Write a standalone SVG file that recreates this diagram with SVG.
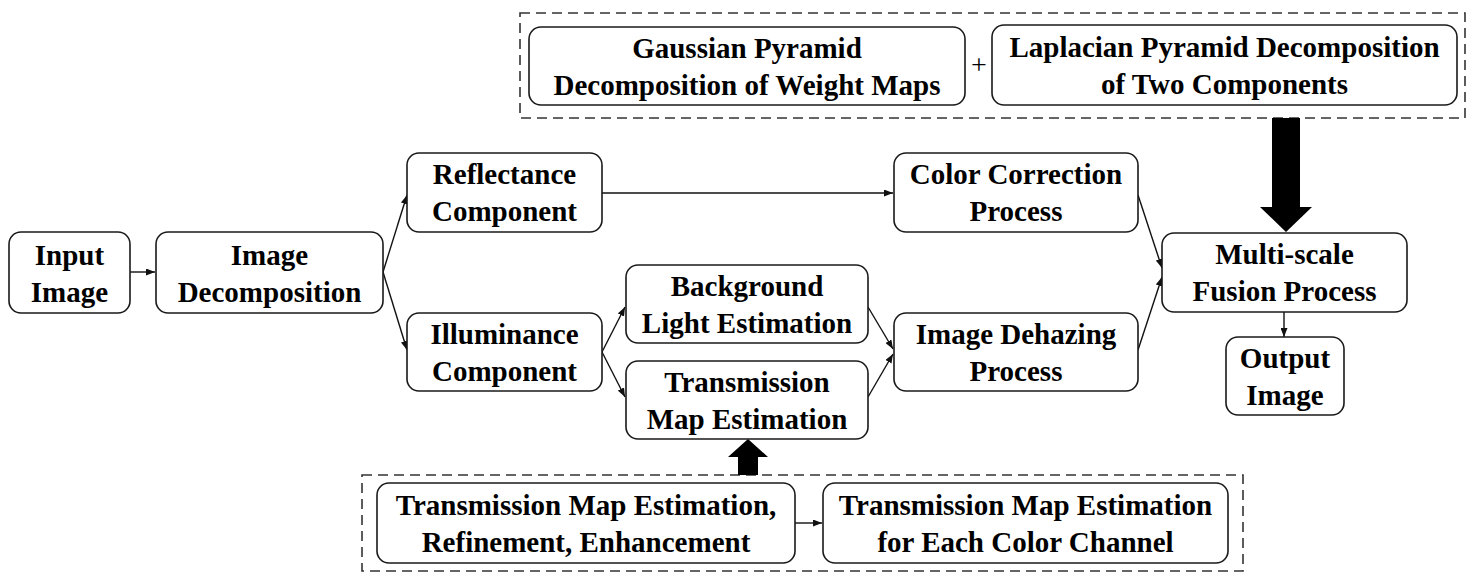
<svg xmlns="http://www.w3.org/2000/svg" width="1474" height="584" viewBox="0 0 1474 584">
<style>
.box{fill:#fff;stroke:#1a1a1a;stroke-width:1.6}
.dash{fill:none;stroke:#333;stroke-width:1.6;stroke-dasharray:10 6}
.lbl{font-weight:bold;font-size:29px;fill:#000;text-anchor:middle}
.plus{font-size:28px;fill:#000;text-anchor:middle}
.conn{fill:none;stroke:#111;stroke-width:1.4;marker-end:url(#ah)}
.thick{fill:#000;stroke:none}
</style>
<defs>
<marker id="ah" markerUnits="userSpaceOnUse" markerWidth="9" markerHeight="7" refX="9" refY="3.5" orient="auto">
<path d="M0,0 L9,3.5 L0,7 z" fill="#111"/>
</marker>
</defs>
<rect class="dash" x="520" y="13" width="945" height="105"/>
<rect class="dash" x="362" y="475" width="881" height="96"/>
<g id="connectors">
<line class="conn" x1="130" y1="272" x2="155" y2="272"/>
<line class="conn" x1="383" y1="272" x2="407" y2="195"/>
<line class="conn" x1="383" y1="272" x2="407" y2="350"/>
<line class="conn" x1="602" y1="193" x2="893" y2="193"/>
<line class="conn" x1="602" y1="352" x2="625" y2="307"/>
<line class="conn" x1="602" y1="352" x2="625" y2="397"/>
<line class="conn" x1="868" y1="307" x2="893" y2="349"/>
<line class="conn" x1="868" y1="397" x2="893" y2="354"/>
<line class="conn" x1="1138" y1="195" x2="1162" y2="268"/>
<line class="conn" x1="1138" y1="350" x2="1162" y2="277"/>
<line class="conn" x1="1284" y1="312" x2="1284" y2="337"/>
<line class="conn" x1="795" y1="523" x2="822" y2="523"/>
<polygon class="thick" points="1272,118 1300,118 1300,207 1312,207 1286,232 1260,207 1272,207"/>
<polygon class="thick" points="738,475 758,475 758,457 768,457 748,439 728,457 738,457"/>
</g>
<g font-family="Liberation Serif, Tinos, Times New Roman, DejaVu Serif, serif">
<g id="input"><rect class="box" x="9" y="232" width="121" height="81" rx="12"/><text class="lbl" x="69.5" y="264.5">Input</text><text class="lbl" x="69.5" y="301.5">Image</text></g>
<g id="decomposition"><rect class="box" x="156" y="232" width="227" height="81" rx="12"/><text class="lbl" x="269.5" y="264.5">Image</text><text class="lbl" x="269.5" y="301.5">Decomposition</text></g>
<g id="reflectance"><rect class="box" x="407" y="153" width="195" height="79" rx="12"/><text class="lbl" x="504.5" y="184">Reflectance</text><text class="lbl" x="504.5" y="221">Component</text></g>
<g id="illuminance"><rect class="box" x="407" y="313" width="195" height="78" rx="12"/><text class="lbl" x="504.5" y="343.5">Illuminance</text><text class="lbl" x="504.5" y="380.5">Component</text></g>
<g id="background"><rect class="box" x="626" y="265" width="242" height="78" rx="12"/><text class="lbl" x="747" y="295.5">Background</text><text class="lbl" x="747" y="332.5">Light Estimation</text></g>
<g id="transmission"><rect class="box" x="626" y="361" width="242" height="78" rx="12"/><text class="lbl" x="747" y="391.5">Transmission</text><text class="lbl" x="747" y="428.5">Map Estimation</text></g>
<g id="colorcorrection"><rect class="box" x="894" y="153" width="244" height="79" rx="12"/><text class="lbl" x="1016" y="184">Color Correction</text><text class="lbl" x="1016" y="221">Process</text></g>
<g id="dehazing"><rect class="box" x="894" y="313" width="244" height="78" rx="12"/><text class="lbl" x="1016" y="343.5">Image Dehazing</text><text class="lbl" x="1016" y="380.5">Process</text></g>
<g id="fusion"><rect class="box" x="1162" y="233" width="245" height="79" rx="12"/><text class="lbl" x="1284.5" y="264">Multi-scale</text><text class="lbl" x="1284.5" y="301">Fusion Process</text></g>
<g id="output"><rect class="box" x="1226" y="337" width="118" height="78" rx="12"/><text class="lbl" x="1285" y="367.5">Output</text><text class="lbl" x="1285" y="404.5">Image</text></g>
<g id="gaussian"><rect class="box" x="529" y="27" width="436" height="78" rx="12"/><text class="lbl" x="747" y="57.5">Gaussian Pyramid</text><text class="lbl" x="747" y="94.5">Decomposition of Weight Maps</text></g>
<g id="plus"><text class="plus" x="979" y="74">+</text></g>
<g id="laplacian"><rect class="box" x="992" y="25" width="465" height="80" rx="12"/><text class="lbl" x="1224.5" y="56.5">Laplacian Pyramid Decomposition</text><text class="lbl" x="1224.5" y="93.5">of Two Components</text></g>
<g id="tme-refine"><rect class="box" x="377" y="483" width="418" height="80" rx="12"/><text class="lbl" x="586" y="514.5">Transmission Map Estimation,</text><text class="lbl" x="586" y="551.5">Refinement, Enhancement</text></g>
<g id="tme-channel"><rect class="box" x="823" y="483" width="405" height="80" rx="12"/><text class="lbl" x="1025.5" y="514.5">Transmission Map Estimation</text><text class="lbl" x="1025.5" y="551.5">for Each Color Channel</text></g>
</g>
</svg>
